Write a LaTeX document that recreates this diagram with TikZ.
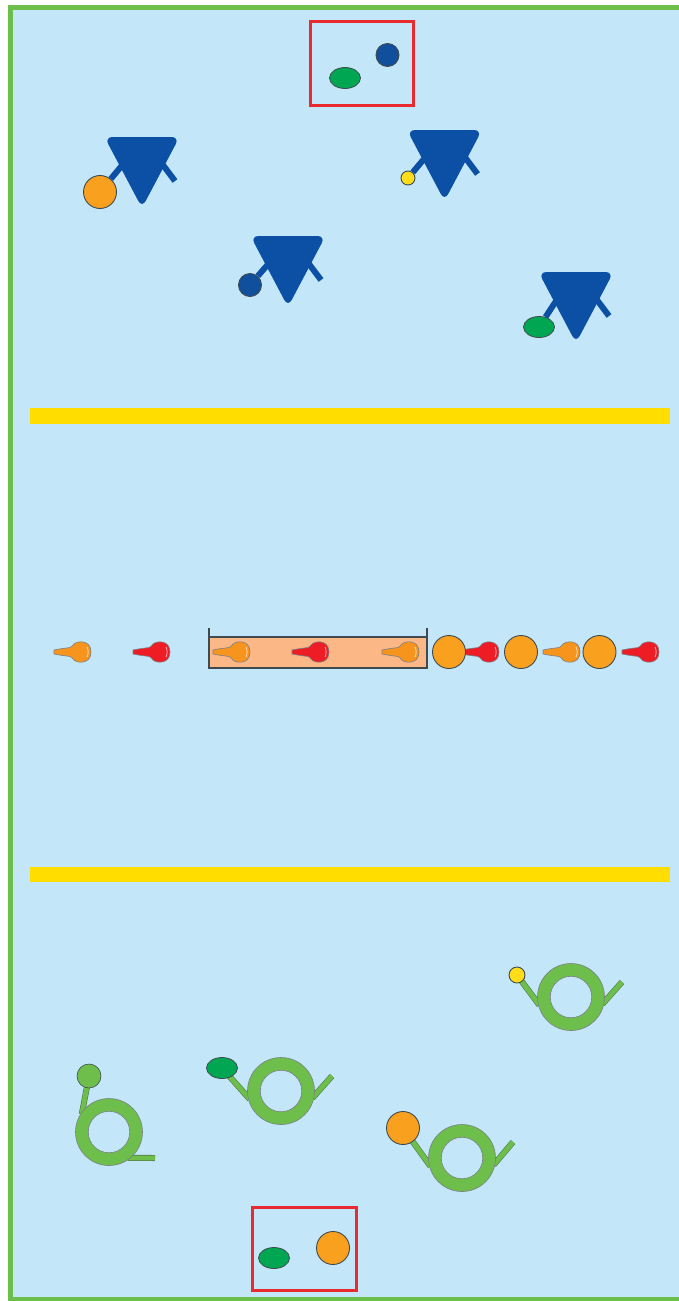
\documentclass[tikz,border=0pt]{standalone}
\usepackage{xcolor}
\definecolor{PanelBlue}{HTML}{C3E6F8}
\definecolor{FrameGreen}{HTML}{6EBE4C}
\definecolor{BarYellow}{HTML}{FFDD00}
\definecolor{BoxRed}{HTML}{E92A2E}
\definecolor{ReceptorBlue}{HTML}{0B50A4}
\definecolor{LigandBlue}{HTML}{104F9C}
\definecolor{LigandOrange}{HTML}{F9A01E}
\definecolor{LigandGreen}{HTML}{00A651}
\definecolor{LigandYellow}{HTML}{FFDD1A}
\definecolor{DropRed}{HTML}{EE1C25}
\definecolor{DropOrange}{HTML}{F7941E}
\definecolor{TroughFill}{HTML}{FBB786}
\definecolor{EdgeGrey}{HTML}{3F4A50}
\usetikzlibrary{shapes.geometric}
\pgfdeclarelayer{panel}
\pgfdeclarelayer{arms}
\pgfsetlayers{panel,arms,main}
\tikzset{
  ligand/.style={
    draw=EdgeGrey,
    line width=0.9pt,
    circle,
    inner sep=0pt
  },
  ligandoval/.style={
    draw=EdgeGrey,
    line width=0.8pt,
    ellipse,
    inner sep=0pt,
    fill=LigandGreen,
    minimum width=31pt,
    minimum height=21pt
  },
  blueline/.style={
    draw=ReceptorBlue,
    line width=6pt
  },
  greenline/.style={
    draw=EdgeGrey!60!FrameGreen,
    line width=6pt,
    postaction={draw=FrameGreen,line width=4.8pt},
    shorten <=-3pt
  },
  ringouter/.style={
    circle,
    draw=EdgeGrey!70,
    fill=FrameGreen,
    line width=0.6pt,
    minimum size=67pt,
    inner sep=0pt
  },
  ringinner/.style={
    circle,
    draw=EdgeGrey!70,
    fill=PanelBlue,
    line width=0.6pt,
    minimum size=41.5pt,
    inner sep=0pt
  },
  redbox/.style={
    draw=BoxRed,
    line width=3pt
  },
  bluereceptor/.pic={
    \coordinate (-stem) at (-18,26);
    \coordinate (-tail) at (33,44);
    \draw[blueline] (18,24) -- (-tail);
    \fill[ReceptorBlue,rounded corners=8pt] (-37.5,0) -- (37.5,0) -- (0,71) -- cycle;
  },
  drop/.pic={
    \draw[draw=EdgeGrey!70,line width=0.6pt,fill=#1] (-27,-2) .. controls (-20,-3.5) and (-14,-4) .. (-11,-4.5)
      .. controls (-9,-5) and (-8.5,-6.5) .. (-7,-8)
      .. controls (-3,-11.5) and (10,-12) .. (10,0)
      .. controls (10,12) and (-3,11.5) .. (-7,8)
      .. controls (-8.5,6.5) and (-9,5) .. (-11,4.5)
      .. controls (-14,4) and (-20,3.5) .. (-27,2) -- cycle;
    \draw[white!65!#1,line width=0.8pt] (6,-5) .. controls (7.5,-2) and (7.5,2) .. (6,5);
  }
}

\begin{document}
\begin{tikzpicture}[x=1pt,y=-1pt]
  \useasboundingbox (0,0) rectangle (679,1301);
  % frame and panel
  \begin{pgfonlayer}{panel}
    \fill[PanelBlue] (10,7) rectangle (679,1299);
    \draw[FrameGreen,line width=4.5pt] (679,7.5) -- (10.5,7.5) -- (10.5,1299.5) -- (679,1299.5);
  \end{pgfonlayer}
  \fill[BarYellow] (30,408) rectangle (669.5,423.5);
  \fill[BarYellow] (30,867) rectangle (669.5,882);

  % top half
  \draw[redbox] (310,21.5) rectangle (413,105);
  \node[ligand,fill=LigandBlue,minimum size=23pt] (freeblue) at (387.5,55) {};
  \node[ligandoval] (freegreen) at (345,78) {};
  \foreach \name/\cx/\cy in {recA/142/137,recB/444.5/130,recC/288/236,recD/576/272}{
    \path (\cx,\cy) pic (\name) {bluereceptor};
  }
  \node[ligand,fill=LigandOrange,minimum size=33pt] (ligA) at (100,192) {};
  \node[ligand,fill=LigandYellow,minimum size=14pt] (ligB) at (408,178) {};
  \node[ligand,fill=LigandBlue,minimum size=23pt] (ligC) at (250,285) {};
  \node[ligandoval] (ligD) at (539,327) {};
  \foreach \name/\lig in {recA/ligA,recB/ligB,recC/ligC,recD/ligD}{
    \draw[blueline] (\lig) -- (\name-stem);
  }

  % middle, the trough and the drops
  \fill[TroughFill] (209,637) rectangle (427,668);
  \draw[EdgeGrey,line width=1.1pt] (209,628) -- (209,668) -- (427,668) -- (427,628);
  \draw[EdgeGrey,line width=1.1pt] (209,637) -- (427,637);
  \foreach \x/\c in {81/DropOrange,160/DropRed,240/DropOrange,319/DropRed,409/DropOrange,489/DropRed,570/DropOrange,649/DropRed}{
    \path (\x,652) pic {drop=\c};
  }
  \foreach \name/\x in {chainA/449,chainB/521,chainC/599.5}{
    \node[ligand,fill=LigandOrange,minimum size=33pt] (\name) at (\x,652) {};
  }

  % bottom half
  \draw[redbox] (252.5,1207) rectangle (356,1290);
  \node[ligandoval] (freeoval) at (274,1258) {};
  \node[ligand,fill=LigandOrange,minimum size=33pt] (freeorange) at (333,1248) {};
  \foreach \name/\x/\y in {ringA/109/1132,ringB/281/1091,ringC/462/1158,ringD/571/997}{
    \node[ringouter] (\name) at (\x,\y) {};
    \node[ringinner] (\name-hole) at (\x,\y) {};
  }
  \node[ligand,fill=FrameGreen,line width=0.6pt,minimum size=24pt] (ligE) at (89,1076) {};
  \node[ligandoval] (ligF) at (222,1068) {};
  \node[ligand,fill=LigandOrange,minimum size=33pt] (ligG) at (403,1128) {};
  \node[ligand,fill=LigandYellow,minimum size=16pt] (ligH) at (517,975) {};
  \coordinate (tailA) at (155,1158);
  \coordinate (tailB) at (332,1076);
  \coordinate (tailC) at (513,1142);
  \coordinate (tailD) at (622,982);
  \begin{pgfonlayer}{arms}
    \foreach \lig/\ring/\ang in {ligE/ringA/142,ligF/ringB/190,ligG/ringC/190,ligH/ringD/190}{
      \draw[greenline,shorten >=-2pt] (\ring.\ang) -- (\lig);
    }
    \foreach \ring/\tail/\ang in {ringA/tailA/-50,ringB/tailB/-8,ringC/tailC/-8,ringD/tailD/-8}{
      \draw[greenline] (\ring.\ang) -- (\tail);
    }
  \end{pgfonlayer}
\end{tikzpicture}
\end{document}
